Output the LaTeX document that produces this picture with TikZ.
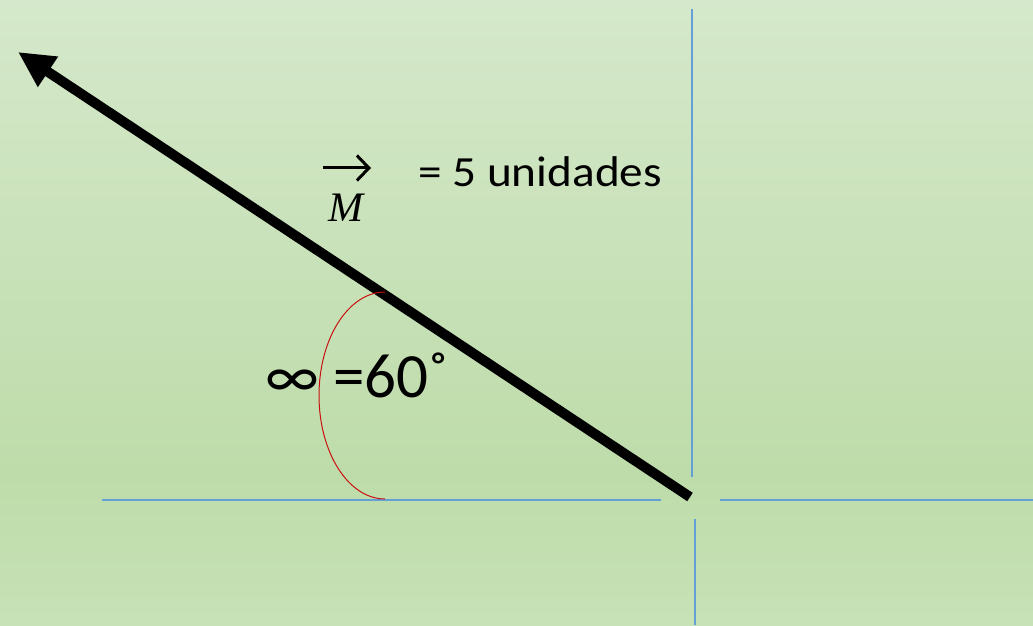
\documentclass[tikz,border=0pt]{standalone}
\usepackage{fontspec}
\setmainfont{Carlito}
\newfontfamily\serifit{Liberation Serif}
\usetikzlibrary{arrows.meta}
\definecolor{bgtop}{RGB}{213,232,203}
\definecolor{bgmid}{RGB}{190,220,170}
\definecolor{bgbot}{RGB}{199,226,183}
\definecolor{axisblue}{RGB}{100,160,214}
\definecolor{arcred}{RGB}{200,16,16}

\begin{document}
\begin{tikzpicture}[x=1pt,y=1pt,
  axis/.style={draw=axisblue, line width=2pt},
  vec/.style={-{Triangle[length=36pt,width=34pt]}, line width=10pt},
  vecsign/.style={-{Straight Barb[length=12pt,width=25pt]}, line width=3pt},
  anglearc/.style={draw=arcred, line width=1pt},
  big/.style={font=\fontsize{63}{63}\selectfont, inner sep=0pt},
  mid/.style={font=\fontsize{43}{43}\selectfont, inner sep=0pt}
]
% background
\shade[top color=bgtop, bottom color=bgmid] (0,150) rectangle (1033,625);
\shade[top color=bgmid, bottom color=bgbot] (0,0) rectangle (1033,150.5);
\useasboundingbox (0,0) rectangle (1033,625);

% axes
\coordinate (ytop) at (692,616);
\coordinate (ymid) at (692,148);
\coordinate (ylow) at (695,106);
\coordinate (ybot) at (695,0);
\coordinate (xleft) at (102,125);
\coordinate (xmid) at (660.5,125);
\coordinate (xright) at (720,125);
\coordinate (xend) at (1033,125);
\draw[axis] (ytop) -- (ymid);
\draw[axis] (ylow) -- (ybot);
\draw[axis] (xleft) -- (xmid);
\draw[axis] (xright) -- (xend);

% vector
\coordinate (O) at (690,128);
\coordinate (tip) at (18,573);
\draw[vec] (O) -- (tip);

% angle
\coordinate (arcA) at (385,333);
\draw[anglearc] (arcA) arc[start angle=90, end angle=270, x radius=66, y radius=103.5];

% labels
\node[big, anchor=base west] (ang) at (265,228) {∞ =60˚};
\node[mid, anchor=base west, xscale=1.1] (mag) at (418,438.5) {= 5 unidades};
\node[inner sep=0pt, anchor=base, font=\serifit\itshape\fontsize{42}{42}\selectfont] (M) at (346,403) {M};
\coordinate (arrL) at (323,457);
\coordinate (arrR) at (371,457);
\draw[vecsign] (arrL) -- (arrR);
\end{tikzpicture}
\end{document}
